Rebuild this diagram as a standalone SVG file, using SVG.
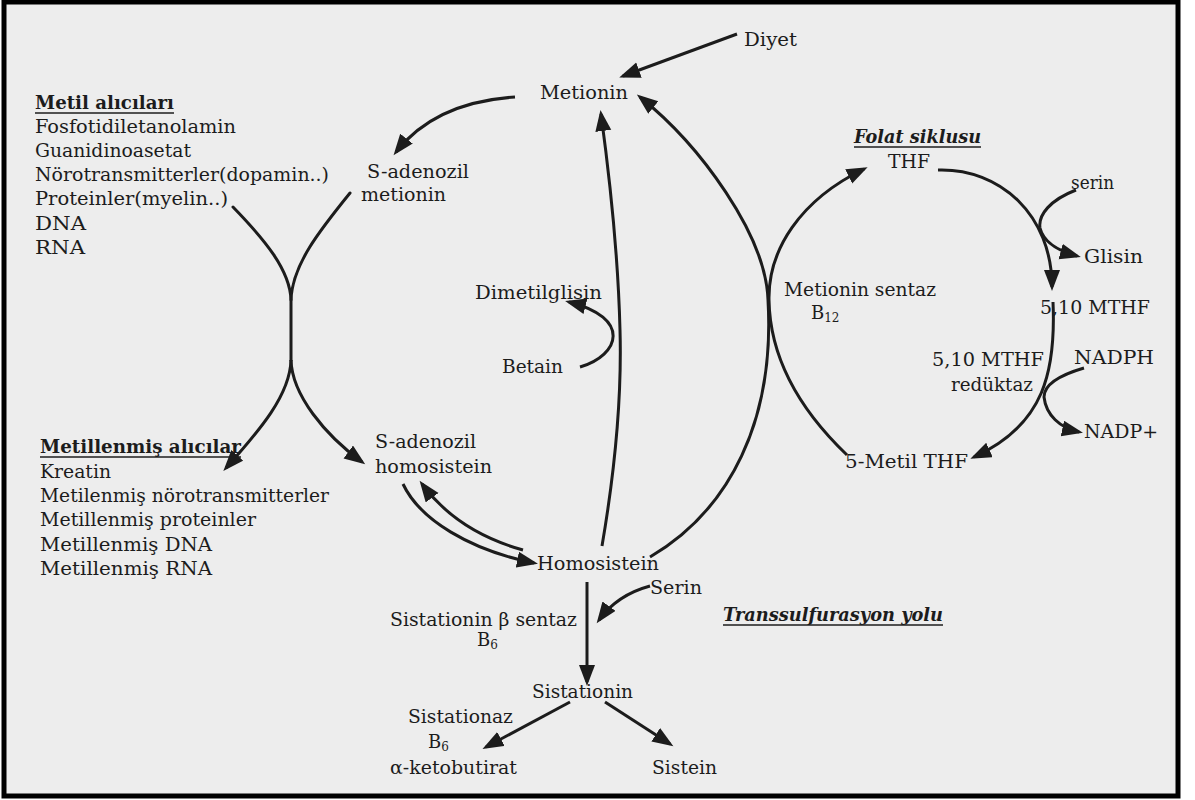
<svg xmlns="http://www.w3.org/2000/svg" width="1195" height="800" viewBox="0 0 1195 800">
<style>
  text { font-family: "DejaVu Serif", "Liberation Serif", serif; font-size: 18px; fill: #1c1c1c; }
  .b { font-weight: bold; }
  .bi { font-weight: bold; font-style: italic; }
  .ul { stroke: #1c1c1c; stroke-width: 1.6; }
  .sub { font-size: 12px; }
  .c { fill: none; stroke: #1c1c1c; stroke-width: 3; stroke-linecap: round; }
  .ca { fill: none; stroke: #1c1c1c; stroke-width: 3; marker-end: url(#ah); }
</style>
<defs>
  <marker id="ah" markerUnits="userSpaceOnUse" markerWidth="22" markerHeight="18" refX="17" refY="8" orient="auto">
    <path d="M0,0 L21,8 L0,16 Z" fill="#1c1c1c"/>
  </marker>
</defs>
<rect x="0" y="0" width="1195" height="800" fill="#ffffff"/>
<rect x="4" y="2" width="1174" height="794" fill="#ededed" stroke="#000" stroke-width="5"/>

<g id="connectors">
  <path class="ca" d="M737,34 L623,76"/>
  <path class="ca" d="M515,97 C470,100 425,115 396,152"/>
  <path class="c" d="M233,207 C265,240 290,270 291,300 L291,360"/>
  <path class="ca" d="M291,360 C290,395 260,430 226,468"/>
  <path class="c" d="M350,193 C320,230 292,265 291,300"/>
  <path class="ca" d="M291,360 C292,395 325,435 362,462"/>
  <path class="ca" d="M602,546 C615,470 622,400 620,330 C618,250 610,180 601,114"/>
  <path class="ca" d="M580,367 C620,355 632,318 569,302"/>
  <path class="ca" d="M650,557 C730,510 775,420 768,300 C766,235 700,145 640,97"/>
  <path class="ca" d="M847,455 C800,410 770,360 769,300 C768,250 800,200 864,169"/>
  <path class="ca" d="M403,484 C420,520 470,550 534,563"/>
  <path class="ca" d="M523,550 C480,538 445,515 422,484"/>
  <path class="ca" d="M587,582 L587,682"/>
  <path class="ca" d="M650,586 C628,592 612,602 599,620"/>
  <path class="ca" d="M570,702 L486,747"/>
  <path class="ca" d="M605,702 L670,744"/>
  <path class="ca" d="M938,170 C1000,168 1052,215 1052,287"/>
  <path class="ca" d="M1076,190 C1050,200 1038,215 1040,228 C1043,240 1055,250 1077,256"/>
  <path class="ca" d="M1053,302 C1056,370 1045,425 974,457"/>
  <path class="ca" d="M1084,368 C1060,375 1044,385 1044,397 C1046,415 1060,428 1079,432"/>
</g>

<g id="diyet"><text x="744" y="46" textLength="53" lengthAdjust="spacingAndGlyphs">Diyet</text></g>
<g id="metionin"><text x="540" y="99" textLength="88" lengthAdjust="spacingAndGlyphs">Metionin</text></g>

<g id="metil-alicilari">
  <text class="b" x="35" y="109" textLength="139" lengthAdjust="spacingAndGlyphs">Metil alıcıları</text>
  <line class="ul" x1="35" y1="113" x2="174" y2="113"/>
  <text x="35" y="133" textLength="201" lengthAdjust="spacingAndGlyphs">Fosfotidiletanolamin</text>
  <text x="35" y="157" textLength="156" lengthAdjust="spacingAndGlyphs">Guanidinoasetat</text>
  <text x="35" y="181" textLength="294" lengthAdjust="spacingAndGlyphs">Nörotransmitterler(dopamin..)</text>
  <text x="35" y="205" textLength="193" lengthAdjust="spacingAndGlyphs">Proteinler(myelin..)</text>
  <text x="35" y="230" textLength="51" lengthAdjust="spacingAndGlyphs">DNA</text>
  <text x="35" y="254" textLength="50" lengthAdjust="spacingAndGlyphs">RNA</text>
</g>

<g id="sam">
  <text x="367" y="178" textLength="102" lengthAdjust="spacingAndGlyphs">S-adenozil</text>
  <text x="361" y="201" textLength="85" lengthAdjust="spacingAndGlyphs">metionin</text>
</g>

<g id="dimetilglisin"><text x="475" y="299" textLength="127" lengthAdjust="spacingAndGlyphs">Dimetilglisin</text></g>
<g id="betain"><text x="502" y="373" textLength="61" lengthAdjust="spacingAndGlyphs">Betain</text></g>

<g id="metillenmis-alicilar">
  <text class="b" x="40" y="453" textLength="201" lengthAdjust="spacingAndGlyphs">Metillenmiş alıcılar</text>
  <line class="ul" x1="40" y1="457" x2="241" y2="457"/>
  <text x="40" y="478" textLength="71" lengthAdjust="spacingAndGlyphs">Kreatin</text>
  <text x="40" y="502" textLength="289" lengthAdjust="spacingAndGlyphs">Metilenmiş nörotransmitterler</text>
  <text x="40" y="526" textLength="216" lengthAdjust="spacingAndGlyphs">Metillenmiş proteinler</text>
  <text x="40" y="551" textLength="172" lengthAdjust="spacingAndGlyphs">Metillenmiş DNA</text>
  <text x="40" y="575" textLength="172" lengthAdjust="spacingAndGlyphs">Metillenmiş RNA</text>
</g>

<g id="sah">
  <text x="375" y="448" textLength="101" lengthAdjust="spacingAndGlyphs">S-adenozil</text>
  <text x="375" y="473" textLength="117" lengthAdjust="spacingAndGlyphs">homosistein</text>
</g>

<g id="homosistein"><text x="537" y="570" textLength="122" lengthAdjust="spacingAndGlyphs">Homosistein</text></g>
<g id="serin-trans"><text x="650" y="594" textLength="52" lengthAdjust="spacingAndGlyphs">Serin</text></g>
<g id="cbs">
  <text x="390" y="626" textLength="187" lengthAdjust="spacingAndGlyphs">Sistationin β sentaz</text>
  <text x="477" y="646">B<tspan class="sub" dy="3">6</tspan></text>
</g>
<g id="transsulfurasyon">
  <text class="bi" x="723" y="621" textLength="220" lengthAdjust="spacingAndGlyphs">Transsulfurasyon yolu</text>
  <line class="ul" x1="723" y1="625" x2="943" y2="625"/>
</g>
<g id="sistationin"><text x="532" y="698" textLength="101" lengthAdjust="spacingAndGlyphs">Sistationin</text></g>
<g id="sistationaz">
  <text x="408" y="723" textLength="105" lengthAdjust="spacingAndGlyphs">Sistationaz</text>
  <text x="428" y="748">B<tspan class="sub" dy="3">6</tspan></text>
</g>
<g id="ketobutirat"><text x="390" y="774" textLength="127" lengthAdjust="spacingAndGlyphs">α-ketobutirat</text></g>
<g id="sistein"><text x="652" y="774" textLength="65" lengthAdjust="spacingAndGlyphs">Sistein</text></g>

<g id="folat">
  <text class="bi" x="854" y="143" textLength="127" lengthAdjust="spacingAndGlyphs">Folat siklusu</text>
  <line class="ul" x1="854" y1="147" x2="981" y2="147"/>
</g>
<g id="thf"><text x="888" y="168" textLength="42" lengthAdjust="spacingAndGlyphs">THF</text></g>
<g id="serin-folat"><text x="1071" y="189" textLength="43" lengthAdjust="spacingAndGlyphs">serin</text></g>
<g id="glisin"><text x="1084" y="263" textLength="59" lengthAdjust="spacingAndGlyphs">Glisin</text></g>
<g id="metionin-sentaz">
  <text x="784" y="296" textLength="152" lengthAdjust="spacingAndGlyphs">Metionin sentaz</text>
  <text x="811" y="319">B<tspan class="sub" dy="3">12</tspan></text>
</g>
<g id="mthf-510"><text x="1040" y="314" textLength="110" lengthAdjust="spacingAndGlyphs">5,10 MTHF</text></g>
<g id="mthfr">
  <text x="932" y="366" textLength="112" lengthAdjust="spacingAndGlyphs">5,10 MTHF</text>
  <text x="951" y="391" textLength="82" lengthAdjust="spacingAndGlyphs">redüktaz</text>
</g>
<g id="nadph"><text x="1074" y="364" textLength="80" lengthAdjust="spacingAndGlyphs">NADPH</text></g>
<g id="nadp"><text x="1084" y="438" textLength="74" lengthAdjust="spacingAndGlyphs">NADP+</text></g>
<g id="metil-thf"><text x="845" y="468" textLength="123" lengthAdjust="spacingAndGlyphs">5-Metil THF</text></g>
</svg>
